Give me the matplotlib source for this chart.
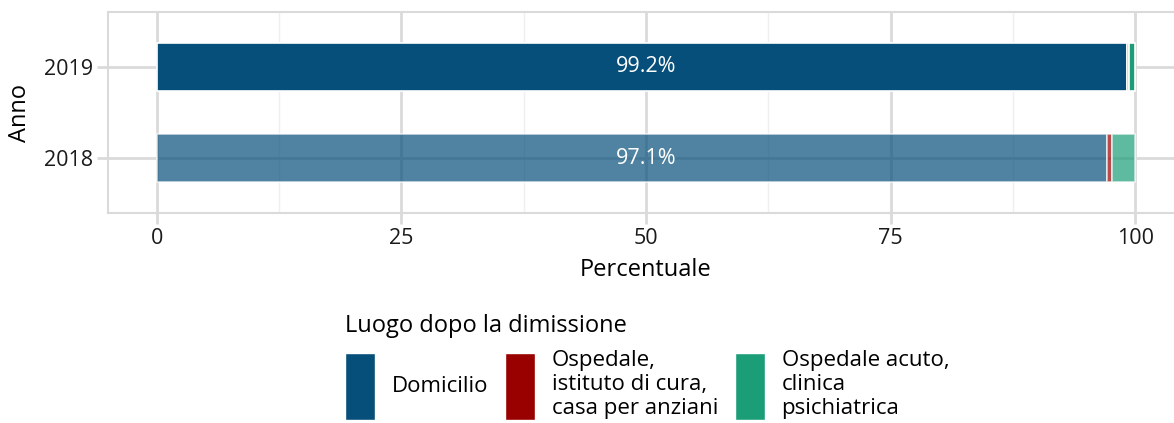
import numpy as np
import matplotlib.pyplot as plt
from matplotlib.patches import Patch

# Daten
anni = ['2018', '2019']
categorie = ['Domicilio', 'Ospedale,\nistituto di cura,\ncasa per anziani',
             'Ospedale acuto,\nclinica\npsichiatrica']
domicilio = [97.1, 99.2]
ospedale = [0.5, 0.2]
acuto = [2.4, 0.6]
colori = ['#064f7a', '#990000', '#1b9e77']
alpha_anno = [0.7, 1.0]

plt.rcParams['font.family'] = ['Open Sans', 'DejaVu Sans']
grid_col = '#dadada'

fig = plt.figure(figsize=(11.74, 4.23), dpi=100)
ax = fig.add_axes([108 / 1174, 1 - 213 / 423, (1184 - 108) / 1174, 201 / 423])

serie = [domicilio, ospedale, acuto]
y = np.arange(len(anni))
for i, anno in enumerate(anni):
    left = 0
    for j, s in enumerate(serie):
        ax.barh(y[i], s[i], left=left, height=0.53, color=colori[j],
                alpha=alpha_anno[i], edgecolor='white', linewidth=1.2, zorder=3)
        left += s[i]
    ax.text(50, y[i], '%.1f%%' % domicilio[i], color='white', ha='center',
            va='center', fontsize=15.5, zorder=4)

ax.set_xlim(-5, 105)
ax.set_ylim(-0.6, 1.6)
ax.set_xticks([0, 25, 50, 75, 100])
ax.set_xticks([12.5, 37.5, 62.5, 87.5], minor=True)
ax.set_yticks(y)
ax.set_yticklabels(anni)
ax.grid(True, which='major', color=grid_col, linewidth=2, zorder=0)
ax.grid(True, which='minor', axis='x', color='#efefef', linewidth=1, zorder=0)
ax.tick_params(axis='both', which='major', length=8, width=2, color=grid_col,
               labelsize=15.5, pad=3, labelcolor='#1a1a1a')
ax.tick_params(which='minor', length=0)
for sp in ax.spines.values():
    sp.set_color(grid_col)
    sp.set_linewidth(1.5)
ax.set_xlabel('Percentuale', fontsize=17, labelpad=6)
ax.set_ylabel('Anno', fontsize=17, labelpad=8)

# Legenda
handles = [Patch(facecolor=c, edgecolor='white') for c in colori]
leg = fig.legend(handles, categorie, loc='lower left', bbox_to_anchor=(332 / 1174, -0.025),
                 ncol=3, frameon=False, fontsize=16, title='Luogo dopo la dimissione',
                 title_fontsize=17, handlelength=1.35, handleheight=4.3,
                 handletextpad=0.75, columnspacing=0.75, borderaxespad=0.2)
leg._legend_box.align = 'left'
for t in leg.get_texts():
    t.set_linespacing(1.2)

fig.savefig('out.png', dpi=100)
